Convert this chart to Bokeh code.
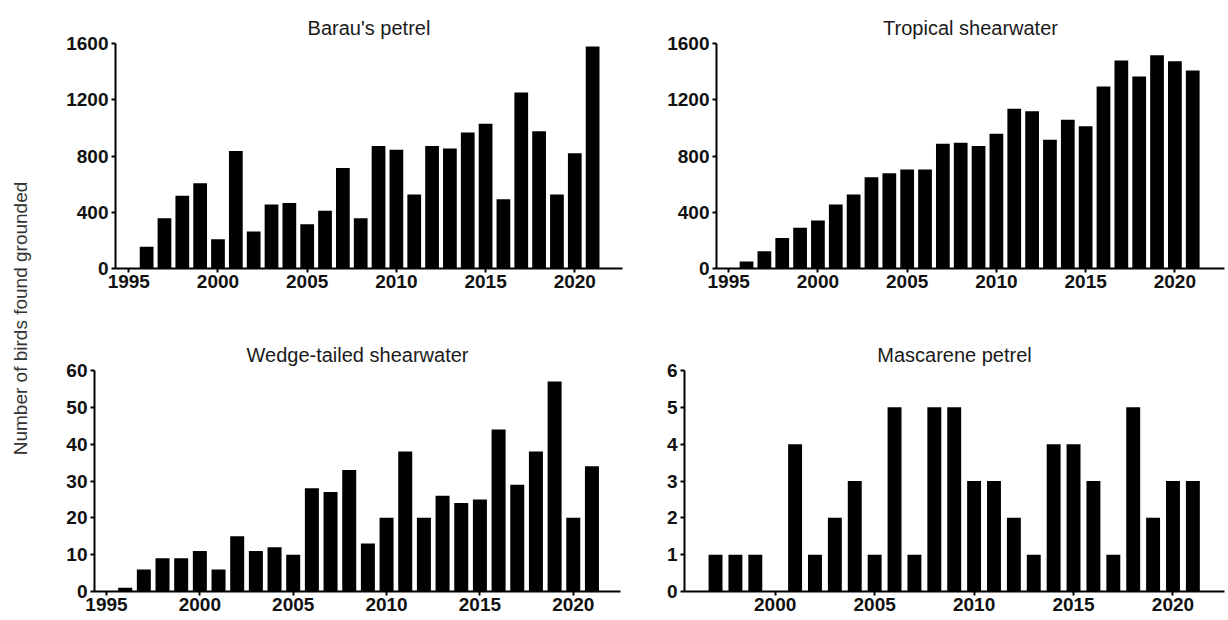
from bokeh.plotting import figure
from bokeh.layouts import row, column
from bokeh.models import Range1d, FixedTicker, Label
from bokeh.embed import file_html
from bokeh.resources import INLINE
import math

years = list(range(1996, 2022))
barau = [155, 358, 518, 606, 208, 835, 263, 456, 465, 315, 410, 714, 358, 871,
         845, 527, 871, 854, 967, 1029, 492, 1251, 976, 527, 819, 1578]
tropical = [50, 122, 217, 289, 341, 456, 527, 649, 678, 704, 704, 888, 895, 871,
            959, 1136, 1119, 916, 1057, 1012, 1294, 1480, 1365, 1516, 1473, 1408]
wedge = [1, 6, 9, 9, 11, 6, 15, 11, 12, 10, 28, 27, 33, 13,
         20, 38, 20, 26, 24, 25, 44, 29, 38, 57, 20, 34]
masc_years = list(range(1997, 2022))
mascarene = [1, 1, 1, 0, 4, 1, 2, 3, 1, 5, 1, 5, 5, 3, 3, 2, 1, 4, 4, 3, 1, 5, 2, 3, 3]

titles = ["Barau's petrel", "Tropical shearwater", "Wedge-tailed shearwater", "Mascarene petrel"]
ylabel = "Number of birds found grounded"
yticks_a = [0, 400, 800, 1200, 1600]
yticks_w = [0, 10, 20, 30, 40, 50, 60]
yticks_m = [0, 1, 2, 3, 4, 5, 6]
xticks_a = [1995, 2000, 2005, 2010, 2015, 2020]
xticks_m = [2000, 2005, 2010, 2015, 2020]

FONT = "Liberation Sans"


def panel(title, xs, ys, xr, yr, yticks, xticks, w, h, bl, br, bt, bb, bw):
    p = figure(width=w, height=h, output_backend="svg", toolbar_location=None,
               x_range=Range1d(*xr), y_range=Range1d(*yr),
               min_border_left=bl, min_border_right=br,
               min_border_top=bt, min_border_bottom=bb)
    p.vbar(x=xs, top=ys, width=bw, bottom=0, fill_color="black", line_color=None)
    p.title.text = title
    p.title.align = "center"
    p.title.text_font = FONT
    p.title.text_font_size = "20px"
    p.title.text_font_style = "normal"
    p.title.text_color = "#1a1a1a"
    p.outline_line_color = None
    p.xgrid.visible = False
    p.ygrid.visible = False
    for ax, t in ((p.xaxis[0], xticks), (p.yaxis[0], yticks)):
        ax.ticker = FixedTicker(ticks=t)
        ax.axis_line_width = 2
        ax.axis_line_color = "black"
        ax.major_tick_line_width = 2
        ax.major_tick_line_color = "black"
        ax.major_tick_out = 4
        ax.major_tick_in = 0
        ax.minor_tick_line_color = None
        ax.major_label_text_font = FONT
        ax.major_label_text_font_size = "19px"
        ax.major_label_text_font_style = "bold"
        ax.major_label_text_color = "#111111"
        ax.major_label_standoff = 3
    p.xaxis[0].major_label_standoff = 2
    return p


p1 = panel(titles[0], years, barau, (1994.255, 2022.675), (0, 1600), yticks_a, xticks_a,
           600, 309, 75, 18, 43, 41, 0.77)
p2 = panel(titles[1], years, tropical, (1994.317, 2022.78), (0, 1600), yticks_a, xticks_a,
           586, 309, 76, 2, 43, 41, 0.77)
p3 = panel(titles[2], years, wedge, (1994.357, 2022.53), (0, 60), yticks_w, xticks_a,
           600, 310, 54, 20, 61, 28, 0.75)
p4 = panel(titles[3], masc_years, mascarene, (1995.44, 2022.59), (0, 6), yticks_m, xticks_m,
           586, 310, 44, 2, 61, 28, 0.70)

lab = figure(width=40, height=619, output_backend="svg", toolbar_location=None,
             x_range=Range1d(0, 40), y_range=Range1d(0, 619),
             min_border=0, min_border_left=0, min_border_right=0,
             min_border_top=0, min_border_bottom=0)
lab.axis.visible = False
lab.grid.visible = False
lab.outline_line_color = None
lab.add_layout(Label(x=20, y=301, text=ylabel, angle=math.pi / 2,
                     text_align="center", text_baseline="middle",
                     text_font=FONT, text_font_size="19px", text_color="#333333"))

layout = row(lab, column(row(p1, p2), row(p3, p4)))

open("out.html", "w").write(file_html(layout, INLINE))
